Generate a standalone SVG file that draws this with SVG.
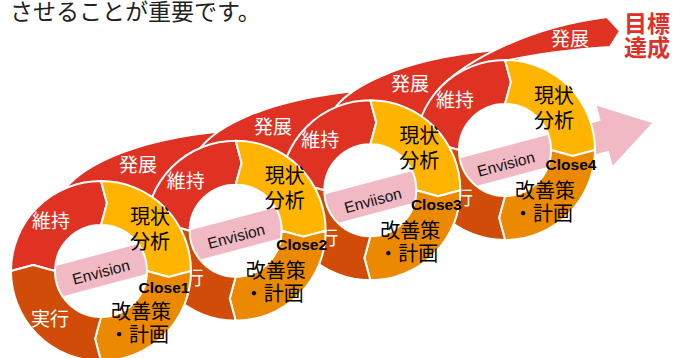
<svg xmlns="http://www.w3.org/2000/svg" xmlns:xlink="http://www.w3.org/1999/xlink" width="673" height="358" viewBox="0 0 673 358">
<style>
.seg{stroke:#fff;stroke-width:2;stroke-linejoin:round}
.iji{fill:#DF3222}.gen{fill:#FFB400}.kai{fill:#EB8A00}.jik{fill:#D14C08}
.band{fill:#DF3222;stroke:#fff;stroke-width:2;stroke-linejoin:round}
.pink{fill:#F1B9C3}
.jw{font-family:"Noto Sans CJK JP","Noto Sans",sans-serif;font-size:19px;fill:#fff;text-anchor:middle}
.jb{font-family:"Noto Sans CJK JP","Noto Sans",sans-serif;font-size:20px;fill:#000;text-anchor:middle}
.cl{font-family:"Liberation Sans",Arial,sans-serif;font-weight:bold;font-size:15.5px;fill:#000;text-anchor:middle}
.env{font-family:"Liberation Sans",Arial,sans-serif;font-size:15.5px;fill:#111;text-anchor:middle}
.top{font-family:"Noto Sans CJK JP",sans-serif;font-size:23px;fill:#222}
.goal{font-family:"Noto Sans CJK JP",sans-serif;font-size:23px;font-weight:bold;fill:#E0302A}
</style>
<defs>
<path id="s-iji" class="seg iji" d="M-90,0 L-67.74,-5.93 L-46,0 A46,46 0 0 1 0,-46 L5.93,-67.74 L0,-90 A90,90 0 0 0 -90,0 Z"/>
<path id="s-gen" class="seg gen" d="M0,-90 L5.93,-67.74 L0,-46 A46,46 0 0 1 46,0 L67.74,5.93 L90,0 A90,90 0 0 0 0,-90 Z"/>
<path id="s-kai" class="seg kai" d="M90,0 L67.74,5.93 L46,0 A46,46 0 0 1 0,46 L-5.93,67.74 L0,90 A90,90 0 0 0 90,0 Z"/>
<path id="s-jik" class="seg jik" d="M0,90 L-5.93,67.74 L0,46 A46,46 0 0 1 -46,0 L-67.74,-5.93 L-90,0 A90,90 0 0 0 0,90 Z"/>
<path id="band" class="band" d="M65.8,188.2 C80,170 125,140 225,131 L250,129 L250,162 L200,176 L152,204 L101,190 L70,194 Z"/>
</defs>

<text class="top" x="10" y="20">させることが重要です。</text>

<g id="connectors">
  <g id="band1"><use xlink:href="#band"/><text class="jw" x="138" y="172">発展</text></g>
  <g id="band2"><use xlink:href="#band" transform="translate(134.67,-40.33)"/><text class="jw" x="273" y="134">発展</text></g>
  <g id="band3"><use xlink:href="#band" transform="translate(269.33,-80.67)"/><text class="jw" x="410" y="91">発展</text></g>
  <g id="band4">
    <path class="band" d="M436.1,92.1 C455,68 520,28 607,17 L620,31 L610,47 C580,49 540,53 505,61 L500,72 L450,100 L440,96 Z"/>
    <text class="jw" x="570" y="46">発展</text>
  </g>
  <g id="envision-arrow" transform="translate(101,270) rotate(-14.93)">
    <path class="pink" d="M-60,-15.5 L521.3,-15.5 L521.3,-31 L570.3,0 L521.3,31 L521.3,15.5 L-60,15.5 Z"/>
  </g>
</g>

<g id="ring4" transform="translate(505,150)">
  <use xlink:href="#s-iji"/><use xlink:href="#s-gen"/><use xlink:href="#s-kai"/><use xlink:href="#s-jik"/>
  <text class="jw" x="-50" y="-43">維持</text>
  <text class="jb" x="49" y="-47.5">現状</text>
  <text class="jb" x="49" y="-22.5">分析</text>
  <text class="jb" x="40" y="47.5">改善策</text>
  <text class="jb" x="38" y="70.5">・計画</text>
  <text class="jw" x="-51" y="54.5">実行</text>
  <text class="cl" x="66" y="19.5">Close4</text>
  <text class="env" transform="translate(1,14) rotate(-14.93)" y="5.5">Envision</text>
</g>
<g id="ring3" transform="translate(370.33,190.33)">
  <use xlink:href="#s-iji"/><use xlink:href="#s-gen"/><use xlink:href="#s-kai"/><use xlink:href="#s-jik"/>
  <text class="jw" x="-50" y="-43">維持</text>
  <text class="jb" x="49" y="-47.5">現状</text>
  <text class="jb" x="49" y="-22.5">分析</text>
  <text class="jb" x="40" y="47.5">改善策</text>
  <text class="jb" x="38" y="70.5">・計画</text>
  <text class="jw" x="-51" y="54.5">実行</text>
  <text class="cl" x="66" y="19.5">Close3</text>
  <text class="env" transform="translate(2.5,10) rotate(-14.93)" y="5.5">Enviison</text>
</g>
<g id="ring2" transform="translate(235.67,230.67)">
  <use xlink:href="#s-iji"/><use xlink:href="#s-gen"/><use xlink:href="#s-kai"/><use xlink:href="#s-jik"/>
  <text class="jw" x="-50" y="-43">維持</text>
  <text class="jb" x="49" y="-47.5">現状</text>
  <text class="jb" x="49" y="-22.5">分析</text>
  <text class="jb" x="40" y="47.5">改善策</text>
  <text class="jb" x="38" y="70.5">・計画</text>
  <text class="jw" x="-51" y="54.5">実行</text>
  <text class="cl" x="66" y="19.5">Close2</text>
  <text class="env" transform="translate(0.5,5.5) rotate(-14.93)" y="5.5">Envision</text>
</g>
<g id="ring1" transform="translate(101,271)">
  <use xlink:href="#s-iji"/><use xlink:href="#s-gen"/><use xlink:href="#s-kai"/><use xlink:href="#s-jik"/>
  <text class="jw" x="-50" y="-43">維持</text>
  <text class="jb" x="49" y="-47.5">現状</text>
  <text class="jb" x="49" y="-22.5">分析</text>
  <text class="jb" x="40" y="47.5">改善策</text>
  <text class="jb" x="38" y="70.5">・計画</text>
  <text class="jw" x="-51" y="54.5">実行</text>
  <text class="cl" x="63" y="21.5">Close1</text>
  <text class="env" transform="translate(0,1) rotate(-14.93)" y="5.5">Envision</text>
</g>

<g id="goal">
  <text class="goal" x="624" y="32">目標</text>
  <text class="goal" x="624" y="56">達成</text>
</g>
</svg>
